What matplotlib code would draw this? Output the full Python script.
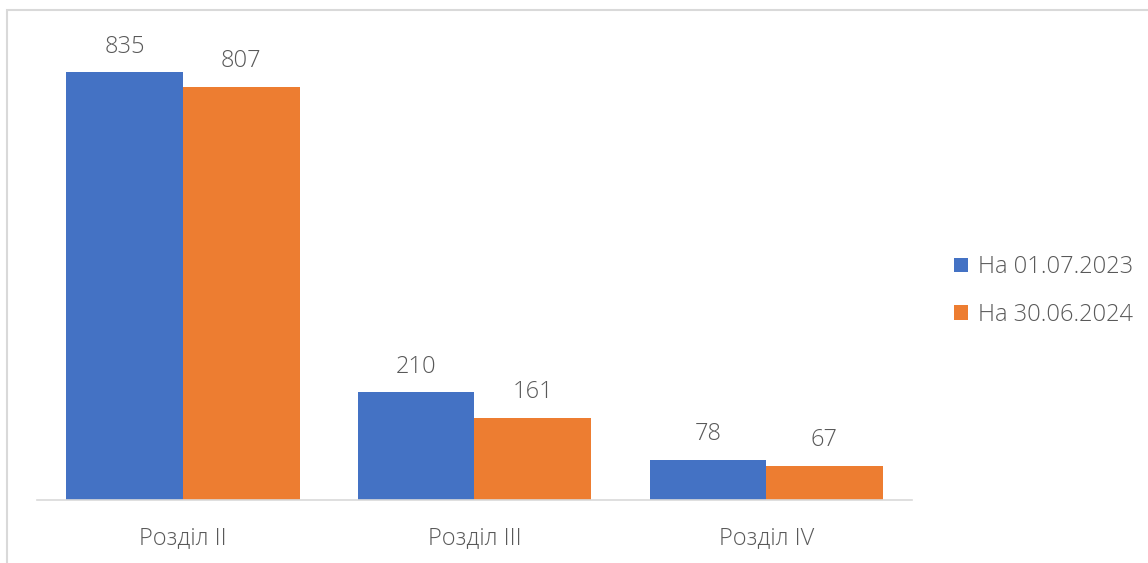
import matplotlib
matplotlib.use("Agg")
import matplotlib.pyplot as plt
from matplotlib.patches import Rectangle
import numpy as np

categories = ["Розділ II", "Розділ III", "Розділ IV"]
series_names = ["На 01.07.2023", "На 30.06.2024"]
values_2023 = [835, 210, 78]
values_2024 = [807, 161, 67]
colors = ["#4472C4", "#ED7D31"]

plt.rcParams['font.family'] = ['Open Sans', 'DejaVu Sans']
plt.rcParams['font.weight'] = 'light'
W, H = 1148, 563
fig = plt.figure(figsize=(W / 100, H / 100), dpi=100)

# figure border (partial, as in the reference)
fig.patches.append(Rectangle((7 / W, -0.1), 1.2, (H - 10) / H + 0.1, transform=fig.transFigure,
                             fill=False, edgecolor="#d9d9d9", linewidth=1.5))

FS = 17
TC = "#595959"
ax = fig.add_axes([37 / W, (H - 500) / H, 875 / W, (500 - 39) / H])
x = np.arange(len(categories))
bw = 0.4
for i, (vals, name) in enumerate(zip([values_2023, values_2024], series_names)):
    pos = x + (i - 0.5) * bw
    ax.bar(pos, vals, width=bw, color=colors[i], label=name)
    for xp, v in zip(pos, vals):
        ax.annotate(str(v), (xp, v), xytext=(0, 18.5), textcoords="offset points",
                    ha="center", va="center", fontsize=FS, color=TC)

ax.set_xlim(-0.5, len(categories) - 0.5)
ax.set_ylim(0, 900)
ax.set_xticks(x)
ax.set_xticklabels(categories, fontsize=FS, color=TC)
ax.tick_params(axis="x", length=0, pad=19)
ax.set_yticks([])
for s in ["top", "right", "left"]:
    ax.spines[s].set_visible(False)
ax.spines["bottom"].set_color("#d9d9d9")
ax.spines["bottom"].set_linewidth(1.2)

leg = fig.legend(loc="center left", bbox_to_anchor=(933 / W, 1 - 291 / H), frameon=False,
                 fontsize=FS, labelcolor=TC, handlelength=0.58, handleheight=0.58,
                 handletextpad=0.42, labelspacing=1.0)

fig.savefig("out.png", dpi=100)
